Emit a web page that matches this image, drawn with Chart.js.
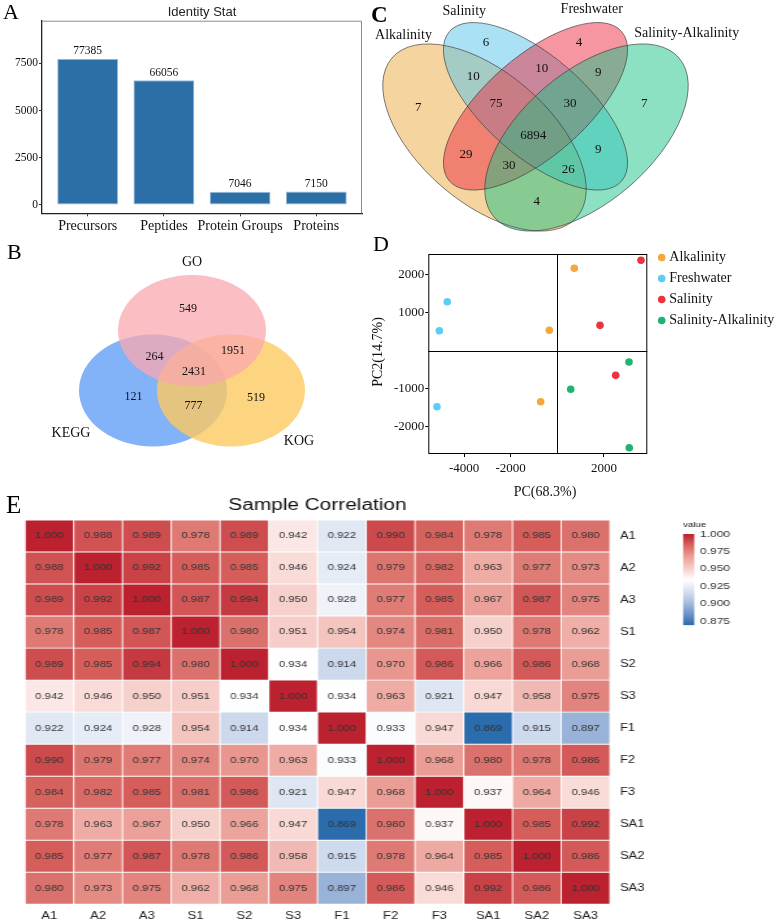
<!DOCTYPE html>
<html>
<head>
<meta charset="utf-8">
<title>Proteome identification overview</title>
<script src="https://cdn.jsdelivr.net/npm/chart.js@4.4.1/dist/chart.umd.min.js"></script>
<style>
  html, body { margin: 0; padding: 0; background: #fff; }
  #page { position: relative; width: 779px; height: 923px; overflow: hidden; }
  canvas { position: absolute; }
  .tag { position: absolute; font-family: "Liberation Serif", "Times New Roman", serif; line-height: 1; color: #000; }
</style>
</head>
<body>
<div id="page">
  <canvas id="chartA" width="370" height="240" style="left:0;top:0;width:370px;height:240px"></canvas>
  <canvas id="chartB" width="360" height="220" style="left:0;top:240px;width:360px;height:220px"></canvas>
  <canvas id="chartC" width="419" height="240" style="left:360px;top:0;width:419px;height:240px"></canvas>
  <canvas id="chartD" width="419" height="270" style="left:360px;top:232px;width:419px;height:270px"></canvas>
  <!-- the heatmap in the figure is stretched sideways, so these two canvases are widened by css -->
  <canvas id="chartE" width="599" height="433" style="left:0;top:490px;width:779px;height:433px"></canvas>
  <canvas id="chartKey" width="77" height="120" style="left:660px;top:515px;width:100.1px;height:120px"></canvas>
  <div class="tag" style="left:3px;top:1px;font-size:22px">A</div>
  <div class="tag" style="left:7px;top:241px;font-size:22px">B</div>
  <div class="tag" style="left:371px;top:3px;font-size:23px;font-weight:bold">C</div>
  <div class="tag" style="left:373px;top:233px;font-size:22px">D</div>
  <div class="tag" style="left:6px;top:492px;font-size:25px">E</div>
</div>
<script>
// ---- data ----
// A: identification counts (bars are drawn at one tenth of the label)
const idTitle = 'Identity Stat';
const idCategories = ['Precursors', 'Peptides', 'Protein Groups', 'Proteins'];
const idBarHeights = [7738.5, 6605.6, 704.6, 715.0];
const idBarLabels = ['77385', '66056', '7046', '7150'];
const idYTicks = [0, 2500, 5000, 7500];

// B: annotation overlap
const annoSets = ['GO', 'KEGG', 'KOG'];
const annoRegions = ['GO', 'GO&KEGG', 'GO&KOG', 'all', 'KEGG', 'KEGG&KOG', 'KOG'];
const annoCounts = [549, 264, 1951, 2431, 121, 777, 519];

// C: protein overlap between groups
const groupSets = ['Alkalinity', 'Salinity', 'Freshwater', 'Salinity-Alkalinity'];
const groupRegions = ['A', 'S', 'F', 'SA', 'A&S', 'A&F', 'A&SA', 'S&F', 'S&SA', 'F&SA',
  'A&S&F', 'A&F&SA', 'A&S&SA', 'S&F&SA', 'all'];
const groupCounts = [7, 6, 4, 7, 10, 29, 4, 10, 9, 9, 75, 30, 26, 30, 6894];

// D: PCA scores
const pcaGroups = ['Alkalinity', 'Freshwater', 'Salinity', 'Salinity-Alkalinity'];
const pcaPC1 = [[730, -343, -713], [-4721, -5064, -5163], [3592, 1833, 2506], [3077, 575, 3090]];
const pcaPC2 = [[2175, 534, -1354], [1291, 524, -1487], [2386, 666, -656], [-304, -1027, -2571]];
const pcaXTicks = [-4000, -2000, 2000];
const pcaYTicks = [-2000, -1000, 1000, 2000];
const pcaXTitle = 'PC(68.3%)';
const pcaYTitle = 'PC2(14.7%)';

// E: sample correlation
const corrTitle = 'Sample Correlation';
const sampleLabels = ['A1', 'A2', 'A3', 'S1', 'S2', 'S3', 'F1', 'F2', 'F3', 'SA1', 'SA2', 'SA3'];
const corrValues = [
  [1.000, 0.988, 0.989, 0.978, 0.989, 0.942, 0.922, 0.990, 0.984, 0.978, 0.985, 0.980],
  [0.988, 1.000, 0.992, 0.985, 0.985, 0.946, 0.924, 0.979, 0.982, 0.963, 0.977, 0.973],
  [0.989, 0.992, 1.000, 0.987, 0.994, 0.950, 0.928, 0.977, 0.985, 0.967, 0.987, 0.975],
  [0.978, 0.985, 0.987, 1.000, 0.980, 0.951, 0.954, 0.974, 0.981, 0.950, 0.978, 0.962],
  [0.989, 0.985, 0.994, 0.980, 1.000, 0.934, 0.914, 0.970, 0.986, 0.966, 0.986, 0.968],
  [0.942, 0.946, 0.950, 0.951, 0.934, 1.000, 0.934, 0.963, 0.921, 0.947, 0.958, 0.975],
  [0.922, 0.924, 0.928, 0.954, 0.914, 0.934, 1.000, 0.933, 0.947, 0.869, 0.915, 0.897],
  [0.990, 0.979, 0.977, 0.974, 0.970, 0.963, 0.933, 1.000, 0.968, 0.980, 0.978, 0.986],
  [0.984, 0.982, 0.985, 0.981, 0.986, 0.921, 0.947, 0.968, 1.000, 0.937, 0.964, 0.946],
  [0.978, 0.963, 0.967, 0.950, 0.966, 0.947, 0.869, 0.980, 0.937, 1.000, 0.985, 0.992],
  [0.985, 0.977, 0.987, 0.978, 0.986, 0.958, 0.915, 0.978, 0.964, 0.985, 1.000, 0.986],
  [0.980, 0.973, 0.975, 0.962, 0.968, 0.975, 0.897, 0.986, 0.946, 0.992, 0.986, 1.000]
];
const keyTitle = 'value';
const keyTicks = [0.875, 0.900, 0.925, 0.950, 0.975, 1.000];

// ---- common ----
const SERIF = '"Liberation Serif", "Times New Roman", serif';
const SANS = '"Liberation Sans", Arial, sans-serif';
Chart.defaults.animation = false;
Chart.defaults.responsive = false;
Chart.defaults.devicePixelRatio = 1;
Chart.defaults.plugins.legend.display = false;
Chart.defaults.plugins.tooltip.enabled = false;
Chart.defaults.color = '#111';

const noGrid = { display: false, drawTicks: false, tickLength: 0 };
const tickMarks = { display: true, drawOnChartArea: false, drawTicks: true, tickLength: 3, color: '#333' };

// ---- A: bar chart ----
const frameA = {
  id: 'frameA',
  afterDraw(chart) {
    const { ctx, chartArea: a } = chart;
    ctx.save();
    ctx.strokeStyle = '#8c8c8c';
    ctx.lineWidth = 1;
    ctx.beginPath();
    ctx.moveTo(a.left, a.top + 0.5);
    ctx.lineTo(a.right - 0.5, a.top + 0.5);
    ctx.lineTo(a.right - 0.5, a.bottom);
    ctx.stroke();
    ctx.fillStyle = '#222';
    ctx.textAlign = 'center';
    ctx.textBaseline = 'middle';
    ctx.font = '13px ' + SANS;
    ctx.fillText(idTitle, (a.left + a.right) / 2, 12);
    ctx.font = '11.5px ' + SERIF;
    ctx.textBaseline = 'bottom';
    ctx.fillStyle = '#111';
    chart.getDatasetMeta(0).data.forEach((bar, i) => ctx.fillText(idBarLabels[i], bar.x, bar.y - 2));
    ctx.restore();
  }
};

new Chart(document.getElementById('chartA'), {
  type: 'bar',
  data: {
    datasets: [{
      data: idBarHeights.map((v, i) => ({ x: i + 1, y: v })),
      backgroundColor: '#2B6FA6',
      borderColor: '#9CBCD9',
      borderWidth: 1,
      borderSkipped: false,
      barPercentage: 0.8,
      categoryPercentage: 1
    }]
  },
  options: {
    layout: { padding: { top: 20.7, right: 8, left: 0, bottom: 0 } },
    scales: {
      x: {
        type: 'linear', min: 0.4, max: 4.6, offset: false,
        afterBuildTicks: s => { s.ticks = idCategories.map((c, i) => ({ value: i + 1 })); },
        afterFit: s => { s.height = 26.7; },
        grid: { ...tickMarks, offset: false },
        border: { display: true, color: '#222', width: 1.3 },
        ticks: { callback: v => idCategories[v - 1], autoSkip: false, maxRotation: 0, minRotation: 0,
          font: { family: SERIF, size: 14 }, color: '#111', padding: 2 }
      },
      y: {
        min: -440, max: 9760,
        afterBuildTicks: s => { s.ticks = idYTicks.map(v => ({ value: v })); },
        afterFit: s => { s.width = 42; },
        grid: tickMarks,
        border: { display: true, color: '#222', width: 1.3 },
        ticks: { callback: v => String(v), font: { family: SERIF, size: 11.5 }, color: '#111', padding: 1 }
      }
    }
  },
  plugins: [frameA]
});

// ---- Venn layers (B and C) ----
function vennLayer(id, shapes, texts) {
  return {
    id,
    beforeDatasetsDraw(chart) {
      const { ctx, scales: { x, y } } = chart;
      ctx.save();
      shapes.forEach(s => {
        const cx = x.getPixelForValue(s.cx), cy = y.getPixelForValue(s.cy);
        const ra = Math.abs(x.getPixelForValue(s.cx + s.a) - cx);
        const rb = Math.abs(y.getPixelForValue(s.cy + s.b) - cy);
        ctx.beginPath();
        ctx.ellipse(cx, cy, ra, rb, s.rot * Math.PI / 180, 0, Math.PI * 2);
        ctx.fillStyle = s.fill;
        ctx.fill();
      });
      shapes.forEach(s => {
        if (!s.stroke) return;
        const cx = x.getPixelForValue(s.cx), cy = y.getPixelForValue(s.cy);
        const ra = Math.abs(x.getPixelForValue(s.cx + s.a) - cx);
        const rb = Math.abs(y.getPixelForValue(s.cy + s.b) - cy);
        ctx.beginPath();
        ctx.ellipse(cx, cy, ra, rb, s.rot * Math.PI / 180, 0, Math.PI * 2);
        ctx.strokeStyle = s.stroke;
        ctx.lineWidth = 0.9;
        ctx.stroke();
      });
      ctx.fillStyle = '#111';
      ctx.textAlign = 'center';
      ctx.textBaseline = 'middle';
      texts.forEach(t => {
        ctx.font = t.size + 'px ' + SERIF;
        ctx.fillText(t.text, x.getPixelForValue(t.x), y.getPixelForValue(t.y));
      });
      ctx.restore();
    }
  };
}

function vennChart(canvasId, box, layer) {
  return new Chart(document.getElementById(canvasId), {
    type: 'scatter',
    data: { datasets: [] },
    options: {
      layout: { padding: 0 },
      scales: {
        x: { type: 'linear', min: box[0], max: box[1], display: false },
        y: { type: 'linear', min: box[2], max: box[3], reverse: true, display: false }
      }
    },
    plugins: [layer]
  });
}

// B layout, in page pixels
const annoShapes = {
  KEGG: { cx: 153, cy: 390.5, a: 74, b: 56, rot: 0, fill: 'rgba(99,159,246,0.8)' },
  KOG: { cx: 231, cy: 390.5, a: 74, b: 56, rot: 0, fill: 'rgba(252,201,96,0.8)' },
  GO: { cx: 192, cy: 330.5, a: 74, b: 55.5, rot: 0, fill: 'rgba(249,168,175,0.75)' }
};
const annoSetAt = { GO: [192, 262], KEGG: [71, 433], KOG: [299, 441] };
const annoCountAt = [[188, 309], [154.5, 357], [233, 351], [194, 371.5], [133.5, 396.5], [193.5, 405.5], [256, 398]];

vennChart('chartB', [0, 360, 240, 460], vennLayer('vennB',
  ['KEGG', 'KOG', 'GO'].map(k => annoShapes[k]),
  annoSets.map(n => ({ text: n, x: annoSetAt[n][0], y: annoSetAt[n][1], size: 14 }))
    .concat(annoCounts.map((n, i) => ({ text: String(n), x: annoCountAt[i][0], y: annoCountAt[i][1], size: 12 })))
));

// C layout, in page pixels
const groupShapes = [
  { cx: 484.5, cy: 137.5, a: 122, b: 65, rot: 40.7, fill: 'rgba(235,169,65,0.5)', stroke: 'rgba(60,60,60,0.75)' },
  { cx: 535.5, cy: 106.3, a: 114, b: 50, rot: 41, fill: 'rgba(85,195,235,0.5)', stroke: 'rgba(60,60,60,0.75)' },
  { cx: 535.5, cy: 106.3, a: 114, b: 50, rot: -41, fill: 'rgba(235,45,65,0.5)', stroke: 'rgba(60,60,60,0.75)' },
  { cx: 586.5, cy: 137.5, a: 122, b: 65, rot: -40.7, fill: 'rgba(25,195,135,0.5)', stroke: 'rgba(60,60,60,0.75)' }
];
const groupSetAt = [[403.5, 35.5], [464.3, 11], [591.7, 9.5], [686.7, 33.3]];
const groupCountAt = [[418.3, 107.3], [486, 42.7], [579, 42.3], [644.3, 104], [473.3, 76.7], [466, 154.3],
  [536.7, 201.7], [541.7, 68.3], [598.3, 149.3], [598.3, 72.7], [496, 104], [509, 165.7], [568.3, 169.3],
  [570, 104], [533.3, 136]];

vennChart('chartC', [360, 779, 0, 240], vennLayer('vennC', groupShapes,
  groupSets.map((n, i) => ({ text: n, x: groupSetAt[i][0], y: groupSetAt[i][1], size: 14 }))
    .concat(groupCounts.map((n, i) => ({ text: String(n), x: groupCountAt[i][0], y: groupCountAt[i][1], size: 13 })))
));

// ---- D: PCA scatter ----
const pcaColors = ['#F4A83A', '#5CCDF3', '#EC3440', '#1EB46F'];
const pcaFrame = {
  id: 'pcaFrame',
  beforeDatasetsDraw(chart) {
    const { ctx, chartArea: a, scales: { x, y } } = chart;
    ctx.save();
    ctx.strokeStyle = '#000';
    ctx.lineWidth = 1;
    ctx.strokeRect(a.left + 0.5, a.top + 0.5, a.width - 1, a.height - 1);
    const x0 = Math.round(x.getPixelForValue(0)) + 0.5;
    const y0 = Math.round(y.getPixelForValue(0)) + 0.5;
    ctx.beginPath();
    ctx.moveTo(x0, a.top); ctx.lineTo(x0, a.bottom);
    ctx.moveTo(a.left, y0); ctx.lineTo(a.right, y0);
    ctx.stroke();
    ctx.restore();
  },
  afterDraw(chart) {
    const { ctx, chartArea: a } = chart;
    ctx.save();
    ctx.fillStyle = '#111';
    ctx.font = '14px ' + SERIF;
    ctx.textAlign = 'center';
    ctx.textBaseline = 'middle';
    ctx.fillText(pcaXTitle, 185, 260);
    ctx.translate(18, (a.top + a.bottom) / 2 - 2);
    ctx.rotate(-Math.PI / 2);
    ctx.fillText(pcaYTitle, 0, 0);
    ctx.restore();
    // legend
    ctx.save();
    ctx.font = '14px ' + SERIF;
    ctx.textAlign = 'left';
    ctx.textBaseline = 'middle';
    chart.data.datasets.forEach((ds, i) => {
      const ly = 25.5 + i * 21;
      ctx.beginPath();
      ctx.arc(a.right + 14.4, ly, 3.8, 0, Math.PI * 2);
      ctx.fillStyle = ds.backgroundColor;
      ctx.fill();
      ctx.fillStyle = '#111';
      ctx.fillText(ds.label, a.right + 22, ly);
    });
    ctx.restore();
  }
};

new Chart(document.getElementById('chartD'), {
  type: 'scatter',
  data: {
    datasets: pcaGroups.map((g, k) => ({
      label: g,
      data: pcaPC1[k].map((v, i) => ({ x: v, y: pcaPC2[k][i] })),
      backgroundColor: pcaColors[k],
      pointRadius: 3.8,
      pointBorderWidth: 0
    }))
  },
  options: {
    layout: { padding: { top: 22, right: 131.7, left: 0, bottom: 0 } },
    scales: {
      x: {
        type: 'linear', min: -5536, max: 3863,
        afterBuildTicks: s => { s.ticks = pcaXTicks.map(v => ({ value: v })); },
        afterFit: s => { s.height = 48; },
        grid: { ...tickMarks, color: '#000' },
        border: { display: false },
        ticks: { callback: v => String(v), font: { family: SERIF, size: 13 }, color: '#111', padding: 4 }
      },
      y: {
        type: 'linear', min: -2738, max: 2553,
        afterBuildTicks: s => { s.ticks = pcaYTicks.map(v => ({ value: v })); },
        afterFit: s => { s.width = 68.3; },
        grid: { ...tickMarks, color: '#000' },
        border: { display: false },
        ticks: { callback: v => String(v), font: { family: SERIF, size: 13 }, color: '#111', padding: 1 }
      }
    }
  },
  plugins: [pcaFrame]
});

// ---- E: correlation heatmap ----
const corrLow = Math.min(...corrValues.flat());
const corrHigh = Math.max(...corrValues.flat());
const corrMid = (corrLow + corrHigh) / 2;
const redStops = [[0, [255, 255, 255]], [0.25, [246, 205, 200]], [0.5, [235, 160, 152]], [0.75, [215, 100, 95]], [1, [187, 33, 47]]];
const blueStops = [[0, [255, 255, 255]], [0.25, [215, 225, 240]], [0.5, [170, 190, 222]], [0.75, [110, 148, 200]], [1, [43, 108, 172]]];

function corrColor(v) {
  const up = v >= corrMid;
  const u = up ? (v - corrMid) / (corrHigh - corrMid) : (corrMid - v) / (corrMid - corrLow);
  const stops = up ? redStops : blueStops;
  let i = 0;
  while (i < stops.length - 2 && u > stops[i + 1][0]) i++;
  const [u0, c0] = stops[i], [u1, c1] = stops[i + 1];
  const f = Math.max(0, Math.min(1, (u - u0) / (u1 - u0)));
  const c = c0.map((ch, j) => Math.round(ch + (c1[j] - ch) * f));
  return `rgb(${c[0]},${c[1]},${c[2]})`;
}

const cellSpan = 1;
// stacked from the bottom, so the last sample row goes first
const heatDatasets = sampleLabels.map((_, k) => {
  const row = sampleLabels.length - 1 - k;
  return {
    label: sampleLabels[row],
    corr: corrValues[row],
    data: corrValues[row].map(() => cellSpan),
    backgroundColor: corrValues[row].map(corrColor),
    borderColor: 'rgba(255,255,255,0.45)',
    borderWidth: 0.8,
    borderSkipped: false,
    barPercentage: 1,
    categoryPercentage: 1
  };
});

const heatText = {
  id: 'heatText',
  afterDatasetsDraw(chart) {
    const { ctx, chartArea: a } = chart;
    ctx.save();
    ctx.textAlign = 'center';
    ctx.textBaseline = 'middle';
    ctx.fillStyle = '#333';
    ctx.font = '8.7px ' + SANS;
    chart.data.datasets.forEach((ds, di) => {
      chart.getDatasetMeta(di).data.forEach((cell, ci) => {
        ctx.fillText(ds.corr[ci].toFixed(3), cell.x, (cell.y + cell.base) / 2);
      });
    });
    ctx.fillStyle = '#111';
    ctx.font = '16px ' + SANS;
    ctx.fillText(corrTitle, 244.1, 15.7);
    ctx.restore();
  }
};

new Chart(document.getElementById('chartE'), {
  type: 'bar',
  data: { labels: sampleLabels, datasets: heatDatasets },
  options: {
    layout: { padding: { left: 19.22, top: 30, right: 0, bottom: 0 } },
    scales: {
      x: {
        type: 'category', stacked: true, offset: true,
        grid: noGrid, border: { display: false },
        ticks: { font: { family: SANS, size: 10 }, color: '#222', padding: 6.4, autoSkip: false, maxRotation: 0 },
        afterFit: s => { s.height = 18.7; }
      },
      y: { stacked: true, min: 0, max: sampleLabels.length, display: false },
      rows: {
        type: 'category', labels: sampleLabels, position: 'right', offset: true,
        grid: noGrid, border: { display: false },
        ticks: { font: { family: SANS, size: 10 }, color: '#222', padding: 7.65, autoSkip: false },
        afterFit: s => { s.width = 129.95; }
      }
    }
  },
  plugins: [heatText]
});

// colour key
const keyLabel = {
  id: 'keyLabel',
  afterDraw(chart) {
    const { ctx, chartArea: a } = chart;
    ctx.save();
    ctx.fillStyle = '#222';
    ctx.font = '7.5px ' + SANS;
    ctx.textAlign = 'left';
    ctx.textBaseline = 'middle';
    ctx.fillText(keyTitle, a.left, 10);
    ctx.restore();
  }
};

new Chart(document.getElementById('chartKey'), {
  type: 'bar',
  data: {
    labels: [keyTitle],
    datasets: [{
      data: [[corrLow, corrHigh]],
      backgroundColor: c => {
        const ch = c.chart;
        if (!ch.chartArea) return '#ddd';
        const ys = ch.scales.y;
        const g = ch.ctx.createLinearGradient(0, ys.getPixelForValue(corrHigh), 0, ys.getPixelForValue(corrLow));
        for (let i = 0; i <= 24; i++) {
          g.addColorStop(i / 24, corrColor(corrHigh - (corrHigh - corrLow) * i / 24));
        }
        return g;
      },
      borderWidth: 0,
      barPercentage: 1,
      categoryPercentage: 1
    }]
  },
  options: {
    layout: { padding: { left: 17.69, top: 19, bottom: 9.1, right: 0 } },
    scales: {
      x: { display: false },
      y: {
        position: 'right', min: corrLow, max: corrHigh,
        afterBuildTicks: s => { s.ticks = keyTicks.map(v => ({ value: v })); },
        afterFit: s => { s.width = 50.5; },
        grid: noGrid, border: { display: false },
        ticks: { callback: v => v.toFixed(3), font: { family: SANS, size: 9.3 }, color: '#333', padding: 4.26 }
      }
    }
  },
  plugins: [keyLabel]
});
</script>
</body>
</html>
